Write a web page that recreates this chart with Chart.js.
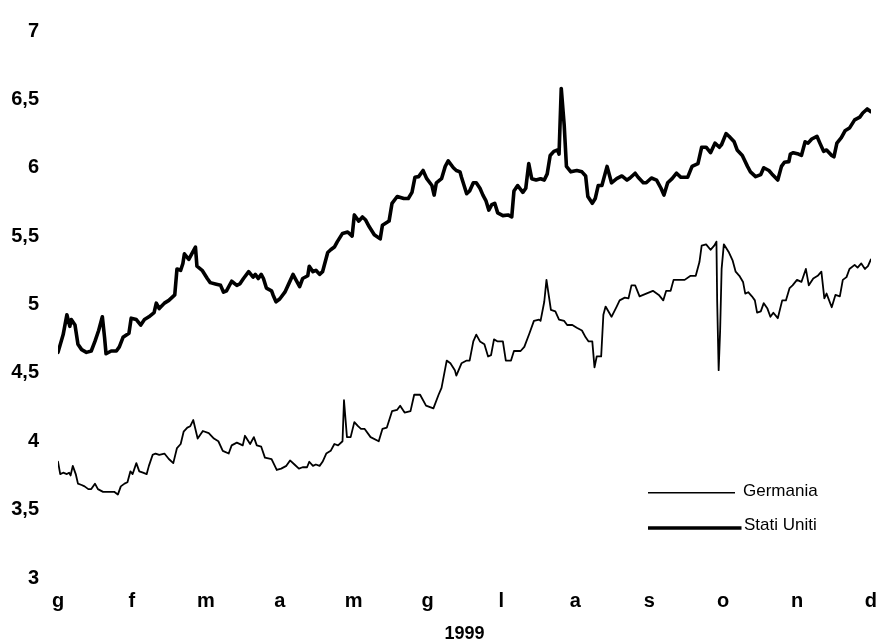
<!DOCTYPE html>
<html>
<head>
<meta charset="utf-8">
<script src="https://cdn.jsdelivr.net/npm/chart.js@4.4.1/dist/chart.umd.min.js"></script>
<style>
html, body { margin: 0; padding: 0; background: #fff; }
canvas { display: block; }
</style>
</head>
<body>
<canvas id="grafico" width="888" height="643"></canvas>
<script>
// mesi del 1999 (etichette asse x)
const mesi = ['g', 'f', 'm', 'a', 'm', 'g', 'l', 'a', 's', 'o', 'n', 'd'];
const anno = '1999';

// posizione nel tempo in mesi (0 = inizio gennaio, 11 = dicembre)
const tempoStatiUniti = [
  0.00,0.07,0.12,0.16,0.18,0.23,0.27,0.32,0.385,0.45,
  0.50,0.55,0.60,0.63,0.65,0.72,0.79,0.83,0.88,0.96,
  0.99,1.06,1.12,1.17,1.23,1.30,1.33,1.37,1.44,1.50,
  1.58,1.61,1.66,1.69,1.71,1.77,1.81,1.86,1.88,1.95,
  2.02,2.06,2.13,2.20,2.24,2.28,2.35,2.42,2.46,2.51,
  2.58,2.64,2.67,2.71,2.75,2.78,2.82,2.89,2.91,2.95,
  3.00,3.07,3.13,3.18,3.22,3.27,3.31,3.38,3.40,3.45,
  3.49,3.54,3.58,3.60,3.65,3.69,3.74,3.78,3.85,3.92,
  3.98,4.01,4.07,4.12,4.16,4.21,4.28,4.36,4.39,4.48,
  4.52,4.59,4.68,4.74,4.79,4.83,4.88,4.94,4.99,5.06,
  5.09,5.12,5.19,5.24,5.28,5.35,5.39,5.44,5.46,5.53,
  5.57,5.62,5.66,5.71,5.75,5.79,5.83,5.87,5.91,5.95,
  6.02,6.09,6.14,6.17,6.22,6.29,6.33,6.37,6.41,6.47,
  6.53,6.58,6.62,6.66,6.71,6.76,6.78,6.81,6.85,6.88,
  6.94,7.02,7.09,7.14,7.17,7.23,7.27,7.31,7.36,7.43,
  7.49,7.56,7.63,7.70,7.74,7.81,7.85,7.92,7.96,8.03,
  8.10,8.16,8.20,8.25,8.31,8.37,8.43,8.52,8.58,8.66,
  8.71,8.77,8.83,8.89,8.95,8.98,9.04,9.08,9.15,9.19,
  9.26,9.33,9.37,9.44,9.51,9.55,9.62,9.66,9.74,9.79,
  9.83,9.89,9.91,9.95,10.02,10.06,10.11,10.15,10.20,10.27,
  10.31,10.36,10.40,10.47,10.50,10.54,10.60,10.65,10.71,10.78,
  10.85,10.89,10.95,11.00
];
const statiUniti = [
  4.65,4.78,4.925,4.84,4.89,4.85,4.71,4.67,4.65,4.66,
  4.73,4.81,4.91,4.76,4.64,4.66,4.66,4.69,4.76,4.79,
  4.90,4.89,4.85,4.89,4.91,4.94,5.01,4.97,5.01,5.03,
  5.07,5.26,5.25,5.30,5.37,5.33,5.37,5.42,5.28,5.25,
  5.19,5.16,5.15,5.14,5.09,5.10,5.17,5.14,5.15,5.19,
  5.24,5.20,5.22,5.19,5.22,5.19,5.12,5.10,5.07,5.02,
  5.04,5.09,5.16,5.22,5.18,5.13,5.19,5.21,5.28,5.24,
  5.25,5.22,5.24,5.28,5.38,5.40,5.42,5.46,5.52,5.53,
  5.50,5.655,5.61,5.64,5.62,5.57,5.51,5.48,5.58,5.61,
  5.74,5.79,5.775,5.775,5.82,5.93,5.935,5.98,5.92,5.87,
  5.80,5.89,5.92,6.01,6.05,6.00,5.98,5.97,5.93,5.81,
  5.83,5.89,5.89,5.85,5.80,5.76,5.69,5.73,5.74,5.67,
  5.65,5.655,5.64,5.83,5.87,5.82,5.85,6.03,5.92,5.91,
  5.92,5.91,5.955,6.09,6.12,6.13,6.10,6.58,6.31,6.01,
  5.97,5.98,5.97,5.94,5.79,5.74,5.775,5.87,5.87,6.01,
  5.89,5.92,5.94,5.91,5.925,5.96,5.93,5.89,5.89,5.925,
  5.91,5.85,5.80,5.89,5.92,5.96,5.93,5.93,6.01,6.03,
  6.15,6.15,6.11,6.18,6.15,6.17,6.25,6.23,6.19,6.13,
  6.09,6.01,5.97,5.935,5.95,6.00,5.98,5.955,5.91,6.01,
  6.04,6.045,6.10,6.11,6.10,6.09,6.19,6.18,6.21,6.23,
  6.18,6.12,6.13,6.09,6.08,6.18,6.22,6.27,6.29,6.35,
  6.37,6.40,6.43,6.41
];

const tempoGermania = [
  0.00,0.03,0.07,0.12,0.15,0.17,0.20,0.24,0.27,0.32,
  0.36,0.41,0.45,0.50,0.54,0.61,0.70,0.76,0.81,0.85,
  0.90,0.94,0.98,1.01,1.06,1.10,1.15,1.20,1.23,1.28,
  1.32,1.37,1.44,1.50,1.56,1.61,1.66,1.70,1.75,1.79,
  1.83,1.89,1.96,2.04,2.11,2.17,2.23,2.31,2.35,2.42,
  2.50,2.53,2.60,2.65,2.69,2.75,2.80,2.89,2.96,3.02,
  3.09,3.14,3.20,3.26,3.31,3.37,3.40,3.45,3.49,3.54,
  3.58,3.63,3.69,3.74,3.79,3.85,3.87,3.91,3.96,4.01,
  4.06,4.10,4.15,4.23,4.34,4.39,4.45,4.52,4.59,4.63,
  4.69,4.77,4.82,4.90,4.98,5.08,5.15,5.19,5.26,5.31,
  5.37,5.39,5.46,5.53,5.57,5.62,5.66,5.71,5.77,5.82,
  5.86,5.90,5.95,6.02,6.06,6.13,6.17,6.26,6.31,6.38,
  6.44,6.51,6.53,6.58,6.61,6.64,6.67,6.73,6.78,6.85,
  6.89,6.96,7.02,7.09,7.14,7.18,7.23,7.26,7.29,7.35,
  7.38,7.41,7.49,7.56,7.60,7.67,7.72,7.76,7.81,7.87,
  7.96,8.05,8.13,8.19,8.23,8.29,8.33,8.41,8.48,8.56,
  8.63,8.68,8.71,8.77,8.83,8.88,8.91,8.92,8.94,8.96,
  8.98,9.01,9.08,9.13,9.17,9.22,9.27,9.30,9.34,9.39,
  9.43,9.46,9.51,9.55,9.60,9.64,9.68,9.74,9.80,9.85,
  9.90,9.94,10.00,10.06,10.12,10.16,10.22,10.28,10.33,10.37,
  10.40,10.47,10.52,10.58,10.62,10.67,10.71,10.78,10.82,10.87,
  10.92,10.96,11.00
];
const germania = [
  3.85,3.76,3.77,3.76,3.77,3.75,3.82,3.76,3.69,3.68,
  3.67,3.65,3.65,3.69,3.65,3.63,3.63,3.63,3.61,3.67,
  3.69,3.70,3.78,3.76,3.84,3.78,3.77,3.76,3.82,3.90,
  3.91,3.90,3.91,3.87,3.84,3.95,3.98,4.07,4.10,4.11,
  4.155,4.02,4.075,4.06,4.02,4.00,3.93,3.91,3.97,3.99,
  3.97,4.04,3.98,4.03,3.97,3.96,3.88,3.87,3.79,3.80,
  3.82,3.86,3.83,3.80,3.81,3.81,3.85,3.82,3.83,3.82,
  3.85,3.91,3.93,3.98,3.97,4.00,4.30,4.03,4.03,4.14,
  4.11,4.09,4.09,4.03,4.00,4.09,4.10,4.22,4.23,4.26,
  4.21,4.22,4.34,4.34,4.26,4.24,4.34,4.39,4.59,4.57,
  4.52,4.48,4.57,4.59,4.59,4.73,4.78,4.73,4.71,4.62,
  4.63,4.745,4.73,4.73,4.59,4.59,4.66,4.66,4.69,4.79,
  4.88,4.89,4.88,5.02,5.18,5.07,4.96,4.95,4.89,4.88,
  4.85,4.85,4.83,4.81,4.76,4.73,4.73,4.54,4.62,4.62,
  4.925,4.985,4.91,4.985,5.03,5.05,5.045,5.14,5.14,5.06,
  5.08,5.10,5.07,5.03,5.10,5.10,5.18,5.18,5.18,5.21,
  5.21,5.31,5.43,5.44,5.40,5.43,5.46,5.02,4.52,4.81,
  5.26,5.44,5.38,5.32,5.24,5.21,5.165,5.08,5.09,5.06,
  5.03,4.94,4.95,5.01,4.97,4.91,4.94,4.90,5.03,5.03,
  5.12,5.14,5.18,5.165,5.26,5.14,5.19,5.21,5.24,5.045,
  5.08,4.98,5.07,5.06,5.18,5.20,5.26,5.29,5.27,5.30,
  5.26,5.28,5.33
];

function punti(tempi, valori) {
  return tempi.map((t, i) => ({ x: t, y: valori[i] }));
}

const font = 'Liberation Sans, Arial, sans-serif';

// legenda disegnata dentro l'area del grafico
const legendaInterna = {
  id: 'legendaInterna',
  afterDraw(chart, args, opts) {
    const ctx = chart.ctx;
    ctx.save();
    ctx.font = opts.font;
    ctx.textBaseline = 'middle';
    ctx.fillStyle = '#000';
    opts.righe.forEach(r => {
      const ds = chart.data.datasets[r.dataset];
      ctx.strokeStyle = ds.borderColor;
      ctx.lineWidth = r.spessore;
      ctx.beginPath();
      ctx.moveTo(opts.x, r.y);
      ctx.lineTo(r.fine, r.y);
      ctx.stroke();
      ctx.fillText(ds.label, r.testoX, r.testoY);
    });
    ctx.restore();
  }
};

new Chart(document.getElementById('grafico'), {
  type: 'line',
  data: {
    datasets: [{
      label: 'Germania',
      data: punti(tempoGermania, germania),
      borderColor: '#000',
      borderWidth: 1.8,
      borderJoinStyle: 'round',
      borderCapStyle: 'round',
      pointRadius: 0,
      tension: 0
    }, {
      label: 'Stati Uniti',
      data: punti(tempoStatiUniti, statiUniti),
      borderColor: '#000',
      borderWidth: 3.6,
      borderJoinStyle: 'round',
      borderCapStyle: 'round',
      pointRadius: 0,
      tension: 0
    }]
  },
  options: {
    responsive: false,
    animation: false,
    layout: { padding: { top: 21, right: 10, bottom: 0, left: 0 } },
    scales: {
      x: {
        type: 'linear',
        min: 0,
        max: 11,
        grid: { display: false, drawTicks: false },
        border: { display: false },
        ticks: {
          stepSize: 1,
          autoSkip: false,
          maxRotation: 0,
          padding: 11,
          color: '#000',
          font: { family: font, size: 20, weight: 'bold' },
          callback: v => mesi[v]
        },
        title: {
          display: true,
          text: anno,
          color: '#000',
          padding: { top: 0, bottom: 0 },
          font: { family: font, size: 18, weight: 'bold', lineHeight: 1 }
        },
        afterFit: s => { s.height = 65; }
      },
      y: {
        min: 3,
        max: 7,
        grid: { display: false, drawTicks: false },
        border: { display: false },
        ticks: {
          stepSize: 0.5,
          padding: 19,
          color: '#000',
          font: { family: font, size: 20, weight: 'bold' },
          callback: v => String(v).replace('.', ',')
        },
        afterFit: s => { s.width = 58; }
      }
    },
    plugins: {
      legend: { display: false },
      tooltip: { enabled: false },
      legendaInterna: {
        font: '17px ' + font,
        x: 648,
        righe: [
          { dataset: 0, y: 492.7, fine: 735, spessore: 1.6, testoX: 743, testoY: 491.8 },
          { dataset: 1, y: 528, fine: 741.5, spessore: 3.4, testoX: 744, testoY: 525.8 }
        ]
      }
    }
  },
  plugins: [legendaInterna]
});
</script>
</body>
</html>
